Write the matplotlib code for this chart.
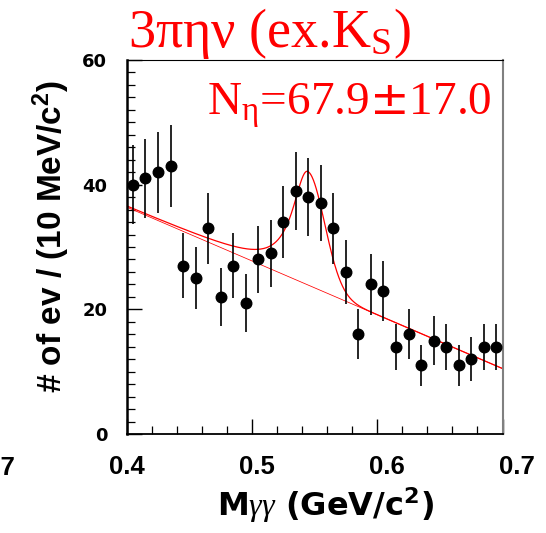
import numpy as np
import matplotlib
matplotlib.use("Agg")
from matplotlib import pyplot as plt
from matplotlib.ticker import MultipleLocator

plt.rcParams["mathtext.fontset"] = "custom"
plt.rcParams["mathtext.default"] = "regular"
plt.rcParams["mathtext.it"] = "Liberation Serif:italic"
plt.rcParams["mathtext.sf"] = "DejaVu Sans"

# data: 10 MeV bins of M(gamma gamma)
x_centers = [0.405, 0.415, 0.425, 0.435, 0.445, 0.455, 0.465, 0.475, 0.485, 0.495,
             0.505, 0.515, 0.525, 0.535, 0.545, 0.555, 0.565, 0.575, 0.585, 0.595,
             0.605, 0.615, 0.625, 0.635, 0.645, 0.655, 0.665, 0.675, 0.685, 0.695]
counts = [40, 41, 42, 43, 27, 25, 33, 22, 27, 21,
          28, 29, 34, 39, 38, 37, 33, 26, 16, 24,
          23, 14, 16, 11, 15, 14, 11, 12, 14, 14]
count_err = [6.3, 6.4, 6.5, 6.6, 5.2, 5.0, 5.7, 4.7, 5.2, 4.6,
             5.3, 5.4, 5.8, 6.2, 6.2, 6.1, 5.7, 5.1, 4.0, 4.9,
             4.8, 3.7, 4.0, 3.3, 3.9, 3.7, 3.3, 3.5, 3.7, 3.7]

# fit result
bg_at_04 = 36.4
bg_at_07 = 10.5
peak_mass = 0.5445
peak_height = 18.2
width_left = 0.015
width_right = 0.0135

x_tick_values = [0.4, 0.5, 0.6, 0.7]
x_tick_labels = ["0.4", "0.5", "0.6", "0.7"]
y_tick_values = [0, 20, 40, 60]

W_PX, H_PX = 546, 533
fig = plt.figure(figsize=(W_PX / 100, H_PX / 100), dpi=100)

# frame: 126.7..502.5 px in x, 60..434 px in y
ax = fig.add_axes([126.7 / W_PX, 1 - 434 / H_PX, 375.8 / W_PX, 374 / H_PX])
ax.set_xlim(0.4, 0.7)
ax.set_ylim(0, 60)

ax.errorbar(x_centers, counts, yerr=count_err, fmt="o", color="black",
            ms=7.6, elinewidth=1.2, capsize=0, zorder=3)

xf = np.linspace(0.4, 0.7, 800)
bg = bg_at_04 + (bg_at_07 - bg_at_04) * (xf - 0.4) / 0.3
sig = np.where(xf < peak_mass,
               peak_height / (1 + ((xf - peak_mass) / width_left) ** 2),
               peak_height * np.exp(-0.5 * ((xf - peak_mass) / width_right) ** 2))
ax.plot(xf, bg, color="red", lw=0.55, zorder=2)
ax.plot(xf, bg + sig, color="red", lw=0.9, zorder=2)

ax.xaxis.set_major_locator(MultipleLocator(0.1))
ax.xaxis.set_minor_locator(MultipleLocator(0.02))
ax.set_yticks(y_tick_values)
ax.yaxis.set_minor_locator(MultipleLocator(2))
ax.tick_params(which="both", direction="in", top=False, right=False,
               labelbottom=False, color="black")
ax.tick_params(which="major", length=11, width=1.0)
ax.tick_params(which="minor", length=5.5, width=0.9)
ax.tick_params(axis="y", pad=14)
for lbl in ax.get_yticklabels():
    lbl.set_fontfamily("DejaVu Sans")
    lbl.set_fontweight("bold")
    lbl.set_fontsize(13)

ax.spines["left"].set_linewidth(1.8)
ax.spines["bottom"].set_linewidth(1.3)
ax.spines["top"].set_linewidth(0.8)
ax.spines["right"].set_linewidth(1.5)
ax.spines["right"].set_color("#808080")

# x tick labels sit on a slightly wider scale than the frame
ax_lab = fig.add_axes([127 / W_PX, 1 - 434 / H_PX, 390 / W_PX, 374 / H_PX], frameon=False)
ax_lab.patch.set_visible(False)
ax_lab.set_xlim(0.4, 0.7)
ax_lab.set_yticks([])
ax_lab.set_xticks(x_tick_values)
ax_lab.set_xticklabels(x_tick_labels, fontsize=18.5, fontweight="bold",
                       family="Liberation Sans")
ax_lab.tick_params(axis="x", length=0, pad=15)

# cut-off label of the neighbouring panel
fig.text(-3 / W_PX, 1 - 468 / H_PX, "0.7", fontsize=18.5, fontweight="bold",
         family="Liberation Sans", ha="center", va="center")

fig.text(51 / W_PX, 1 - 236 / H_PX, "# of ev / (10 MeV/c$^{2}$)", rotation=90,
         ha="center", va="center", fontsize=24, fontweight="bold", family="Liberation Sans")
fig.text(325 / W_PX, 1 - 516 / H_PX, r"M$\mathit{\gamma\gamma}$ (GeV/c$^{2}$)",
         ha="center", va="baseline", fontsize=23, fontweight="bold", family="DejaVu Sans")

fig.text(128 / W_PX, 1 - 47 / H_PX, "3πην (ex.K$_{S}$)", ha="left", va="baseline",
         fontsize=39, color="red", family="Liberation Serif")
fig.text(207 / W_PX, 1 - 115 / H_PX, r"N$_{η}$=67.9$\mathsf{±}$17.0", ha="left", va="baseline",
         fontsize=34, color="red", family="Liberation Serif")

fig.savefig("out.png", dpi=100)
